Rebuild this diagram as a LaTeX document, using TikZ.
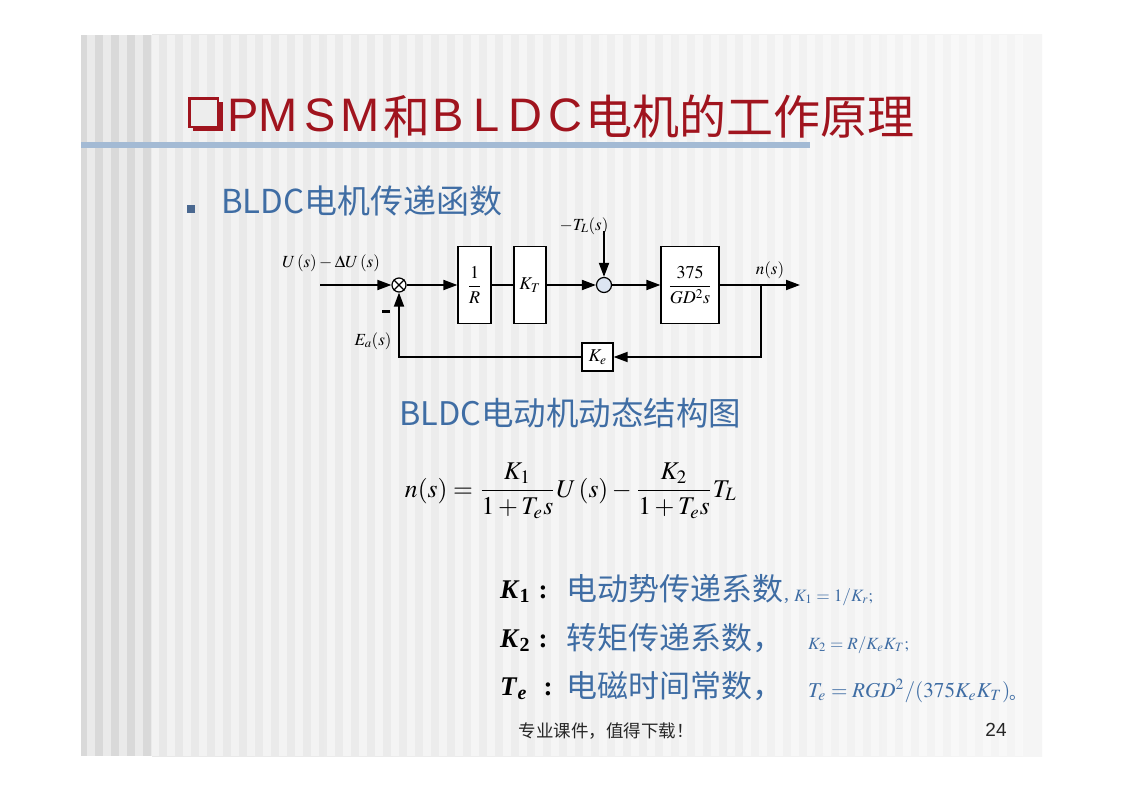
\documentclass[tikz,border=0pt]{standalone}
\usepackage{amsmath}
\usepackage{mathptmx}
\usepackage{graphicx}
\usepackage{fontspec}
\setmainfont{Liberation Serif}
\newfontfamily\cjk{Noto Sans CJK SC}
\newfontfamily\arialf{Liberation Sans}
\usetikzlibrary{arrows.meta}
\definecolor{titred}{HTML}{A0141E}
\definecolor{bodyblue}{HTML}{3F6DA4}
\definecolor{barblue}{HTML}{A3BAD4}
\definecolor{circfill}{HTML}{DCE5F2}
\definecolor{bulletc}{HTML}{4A6890}
\newcommand{\setfs}[1]{\fontsize{#1}{#1}\selectfont}
\begin{document}
\begin{tikzpicture}[x=1pt,y=-1pt,
  tfont/.style={font=\setfs{47}\cjk, text=titred, inner sep=0},
  tlat/.style={font=\setfs{47}\arialf, text=titred, inner sep=0},
  body/.style={font=\setfs{31}\cjk, text=bodyblue, inner sep=0},
  blk/.style={draw, line width=1.2pt, fill=white, inner sep=0, font=\setfs{18}},
  lab/.style={font=\setfs{17}, inner sep=0},
  sig/.style={line width=1.8pt},
  arr/.style={sig, -{Triangle[length=14pt,width=10pt]}},
  defk/.style={font=\setfs{27}, inner sep=0},
  defm/.style={text=bodyblue, inner sep=0}]
\useasboundingbox (0,0) rectangle (1123,794);
\fill[white] (0,0) rectangle (1123,794);
% slide background
\shade[left color=black!9, right color=black!4] (152,35) rectangle (1042,756);
\fill[black!15] (81,35) rectangle (152,756);
\foreach \x in {87,103,...,1030}
  \fill[white,opacity=0.45] (\x,35) rectangle ++(8,721);
% title
\fill[titred] (193,102) rectangle (223,131);
\filldraw[fill=black!7, draw=titred, line width=2.5pt] (189.5,98.5) rectangle (218,127);
\node[tlat, anchor=base] (tP) at (243,132) {P};
\node[tlat, anchor=base] (tM) at (278.5,132) {M};
\node[tlat, anchor=base] (tS) at (320,132) {S};
\node[tlat, anchor=base] (tM2) at (360.5,132) {M};
\node[tfont, anchor=base] (the) at (407,135) {和};
\node[tlat, anchor=base] (tB) at (448,132) {B};
\node[tlat, anchor=base] (tL) at (487,132) {L};
\node[tlat, anchor=base] (tD) at (525.5,132) {D};
\node[tlat, anchor=base] (tC) at (565,132) {C};
\node[tfont, anchor=base west] (trest) at (585,135) {电机的工作原理};
\fill[barblue] (81,142) rectangle (810,148);
% bullet line
\fill[bulletc] (187,205) rectangle (195,213);
\node[body, font=\setfs{33}\cjk, anchor=base west] (sub) at (221,214) {BLDC电机传递函数};
% block diagram
\coordinate (in) at (320,285);
\node[draw, circle, line width=1.2pt, minimum size=14pt, inner sep=0, fill=white] (s1) at (399,285) {};
\draw[line width=1.1pt] (s1.north west) -- (s1.south east) (s1.north east) -- (s1.south west);
\node[blk, minimum width=33pt, minimum height=77pt] (bR) at (474.5,285) {$\dfrac{1}{R}$};
\node[blk, minimum width=32pt, minimum height=77pt] (bK) at (530,285) {$K_T$};
\node[draw, circle, line width=1.2pt, minimum size=15pt, inner sep=0, fill=circfill] (s2) at (604,285) {};
\node[blk, minimum width=58pt, minimum height=77pt] (bG) at (690,285) {$\dfrac{375}{GD^2 s}$};
\coordinate (br) at (761,285);
\coordinate (out) at (800,285);
\node[blk, minimum width=31pt, minimum height=28pt] (bKe) at (597.5,357) {$K_e$};
\coordinate (tl) at (604,231);
\draw[arr] (in) -- (s1.west);
\draw[arr] (s1.east) -- (bR.west);
\draw[sig] (bR.east) -- (bK.west);
\draw[arr] (bK.east) -- (s2.west);
\draw[arr] (s2.east) -- (bG.west);
\draw[arr] (bG.east) -- (out);
\draw[arr] (br) |- (bKe.east);
\draw[arr] (bKe.west) -| (s1.south);
\draw[arr] (tl) -- (s2.north);
\node[lab] (lu) at (331,263) {$U\,(s)-\Delta U\,(s)$};
\node[lab] (ltl) at (584,226) {$-T_L(s)$};
\node[lab] (ln) at (770,270) {$n(s)$};
\node[lab] (le) at (373,341) {$E_a(s)$};
\node[inner sep=0] (minus) at (386,311) {\rule{8pt}{3pt}};
% structure caption
\node[body, font=\setfs{32.5}\cjk, anchor=base west] (cap) at (399,425) {BLDC电动机动态结构图};
% formula
\node[inner sep=0] (formula) at (571,491) {\resizebox{332pt}{!}{$\displaystyle n(s)=\frac{K_1}{1+T_e s}U\,(s)-\frac{K_2}{1+T_e s}T_L$}};
% definitions
\node[defk, anchor=base west] (k1) at (500,598) {\textbf{\textit{K}\textsubscript{1}}};
\node[defk, anchor=base] (c1) at (543,598) {\textbf{:}};
\node[body, anchor=base west] (d1) at (566,600) {电动势传递系数};
\node[defm, anchor=base west, font=\setfs{20}] (d1c) at (784,600) {,};
\node[defm, anchor=base west] (m1) at (794,601) {\resizebox{79pt}{!}{$K_1=1/K_r;$}};
\node[defk, anchor=base west] (k2) at (500,647) {\textbf{\textit{K}\textsubscript{2}}};
\node[defk, anchor=base] (c2) at (543,647) {\textbf{:}};
\node[body, anchor=base west] (d2) at (566,649) {转矩传递系数，};
\node[defm, anchor=base west] (m2) at (808,649) {\resizebox{101pt}{!}{$K_2=R/K_eK_T;$}};
\node[defk, anchor=base west] (k3) at (500,695) {\textbf{\textit{T}\textsubscript{\textit{e}}}};
\node[defk, anchor=base] (c3) at (548,695) {\textbf{:}};
\node[body, anchor=base west] (d3) at (566,697) {电磁时间常数，};
\node[defm, anchor=base west] (m3) at (808,697) {\resizebox{202pt}{!}{$T_e=RGD^2/(375K_eK_T)$}};
\node[defm, anchor=base west, font=\setfs{17}\cjk] (m3b) at (1009,699) {。};
% footer
\node[font=\setfs{17.5}\cjk, text=black!85, inner sep=0] (foot) at (606,731) {专业课件，值得下载！};
\node[font=\setfs{19}\arialf, text=black!85, inner sep=0] (pg) at (996,730) {24};
\end{tikzpicture}
\end{document}
